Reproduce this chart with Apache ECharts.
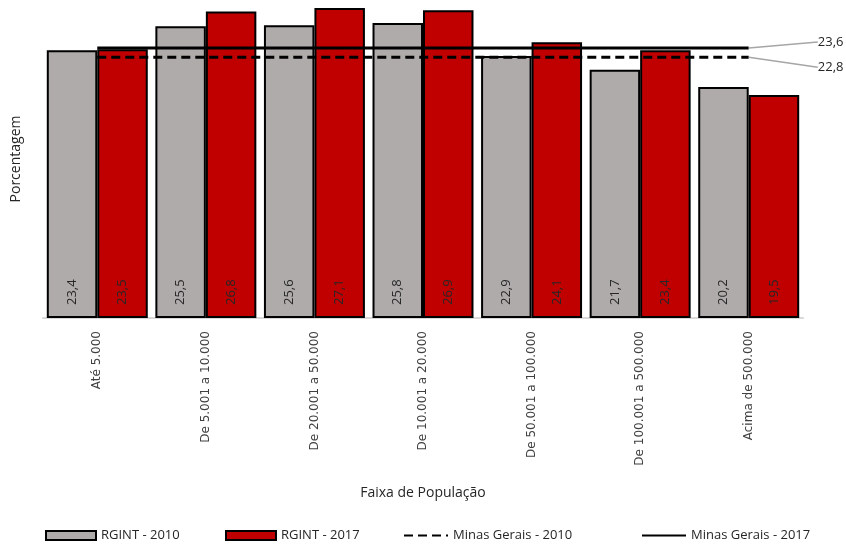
<!DOCTYPE html>
<html>
<head>
<meta charset="utf-8">
<script src="https://cdn.jsdelivr.net/npm/echarts@6/dist/echarts.min.js"></script>
<style>
  html, body { margin: 0; padding: 0; background: #fff; }
  #main { width: 846px; height: 544px; }
</style>
</head>
<body>
<div id="main"></div>
<script>
var categorias = ['Até 5.000', 'De 5.001 a 10.000', 'De 20.001 a 50.000', 'De 10.001 a 20.000',
  'De 50.001 a 100.000', 'De 100.001 a 500.000', 'Acima de 500.000'];
var rgint2010 = [23.4, 25.5, 25.6, 25.8, 22.9, 21.7, 20.2];
var rgint2017 = [23.5, 26.8, 27.1, 26.9, 24.1, 23.4, 19.5];
var minas2010 = [22.8, 22.8, 22.8, 22.8, 22.8, 22.8, 22.8];
var minas2017 = [23.6, 23.6, 23.6, 23.6, 23.6, 23.6, 23.6];

function virgula(v) {
  return v.toFixed(1).replace('.', ',');
}

var rotuloBarra = {
  show: true,
  position: 'insideBottom',
  rotate: 90,
  align: 'left',
  verticalAlign: 'middle',
  distance: 13,
  fontFamily: 'Open Sans',
  fontSize: 13,
  color: '#262626',
  formatter: function (p) { return virgula(p.value); }
};

function linhaMinas(nome, dados, tracejado, dy) {
  var ultimo = dados.length - 1;
  return {
    name: nome,
    type: 'line',
    data: dados.map(function (v, i) {
      if (i !== ultimo) return v;
      // só o último ponto recebe rótulo (com linha guia)
      return {
        value: v,
        symbol: 'circle',
        symbolSize: 0.1,
        label: {
          show: true,
          position: 'right',
          formatter: function (p) { return virgula(p.value); },
          fontFamily: 'Open Sans',
          fontSize: 13,
          color: '#262626'
        }
      };
    }),
    symbol: 'none',
    showSymbol: true,
    z: 5,
    labelLayout: { dx: 64, dy: dy },
    labelLine: { show: true, lineStyle: { color: '#a6a6a6', width: 1.5 } },
    lineStyle: { color: '#000', width: 3, type: tracejado ? [9, 5] : 'solid' },
    itemStyle: { color: '#000' }
  };
}

function legenda(nome, left, largura, altura, icone) {
  var item = { name: nome };
  if (icone) item.icon = icone;
  var l = {
    data: [item],
    left: left,
    top: 524,
    itemWidth: largura,
    itemHeight: altura,
    itemGap: 4,
    textStyle: { fontFamily: 'Open Sans', fontSize: 13, color: '#262626' }
  };
  if (!icone) l.itemStyle = { opacity: 0 };
  return l;
}

var option = {
  animation: false,
  legend: [
    legenda('RGINT - 2010', 40, 50, 9, 'rect'),
    legenda('RGINT - 2017', 220, 50, 9, 'rect'),
    legenda('Minas Gerais - 2010', 398, 44, 3),
    legenda('Minas Gerais - 2017', 636, 44, 3)
  ],
  grid: { left: 43, right: 43, top: 0, bottom: 226 },
  xAxis: {
    type: 'category',
    data: categorias,
    name: 'Faixa de População',
    nameLocation: 'middle',
    nameGap: 168,
    nameTextStyle: { fontFamily: 'Open Sans', fontSize: 14, color: '#262626' },
    axisLine: { lineStyle: { color: '#d9d9d9', width: 2 } },
    axisTick: { show: false },
    axisLabel: {
      rotate: 90,
      margin: 13,
      fontFamily: 'DejaVu Sans',
      fontSize: 12,
      color: '#404040'
    }
  },
  yAxis: {
    type: 'value',
    min: 0,
    max: 27.8,
    name: 'Porcentagem',
    nameLocation: 'middle',
    nameGap: 20,
    nameTextStyle: { fontFamily: 'Open Sans', fontSize: 14, color: '#262626' },
    axisLine: { show: false },
    axisTick: { show: false },
    axisLabel: { show: false },
    splitLine: { show: false }
  },
  series: [
    {
      name: 'RGINT - 2010',
      type: 'bar',
      data: rgint2010,
      barGap: '0%',
      barCategoryGap: '7%',
      itemStyle: { color: '#afabab', borderColor: '#000', borderWidth: 2 },
      label: rotuloBarra
    },
    {
      name: 'RGINT - 2017',
      type: 'bar',
      data: rgint2017,
      itemStyle: { color: '#c00000', borderColor: '#000', borderWidth: 2 },
      label: rotuloBarra
    },
    linhaMinas('Minas Gerais - 2010', minas2010, true, 10),
    linhaMinas('Minas Gerais - 2017', minas2017, false, -6)
  ]
};

var myChart = echarts.init(document.getElementById('main'));
myChart.setOption(option);
</script>
</body>
</html>
